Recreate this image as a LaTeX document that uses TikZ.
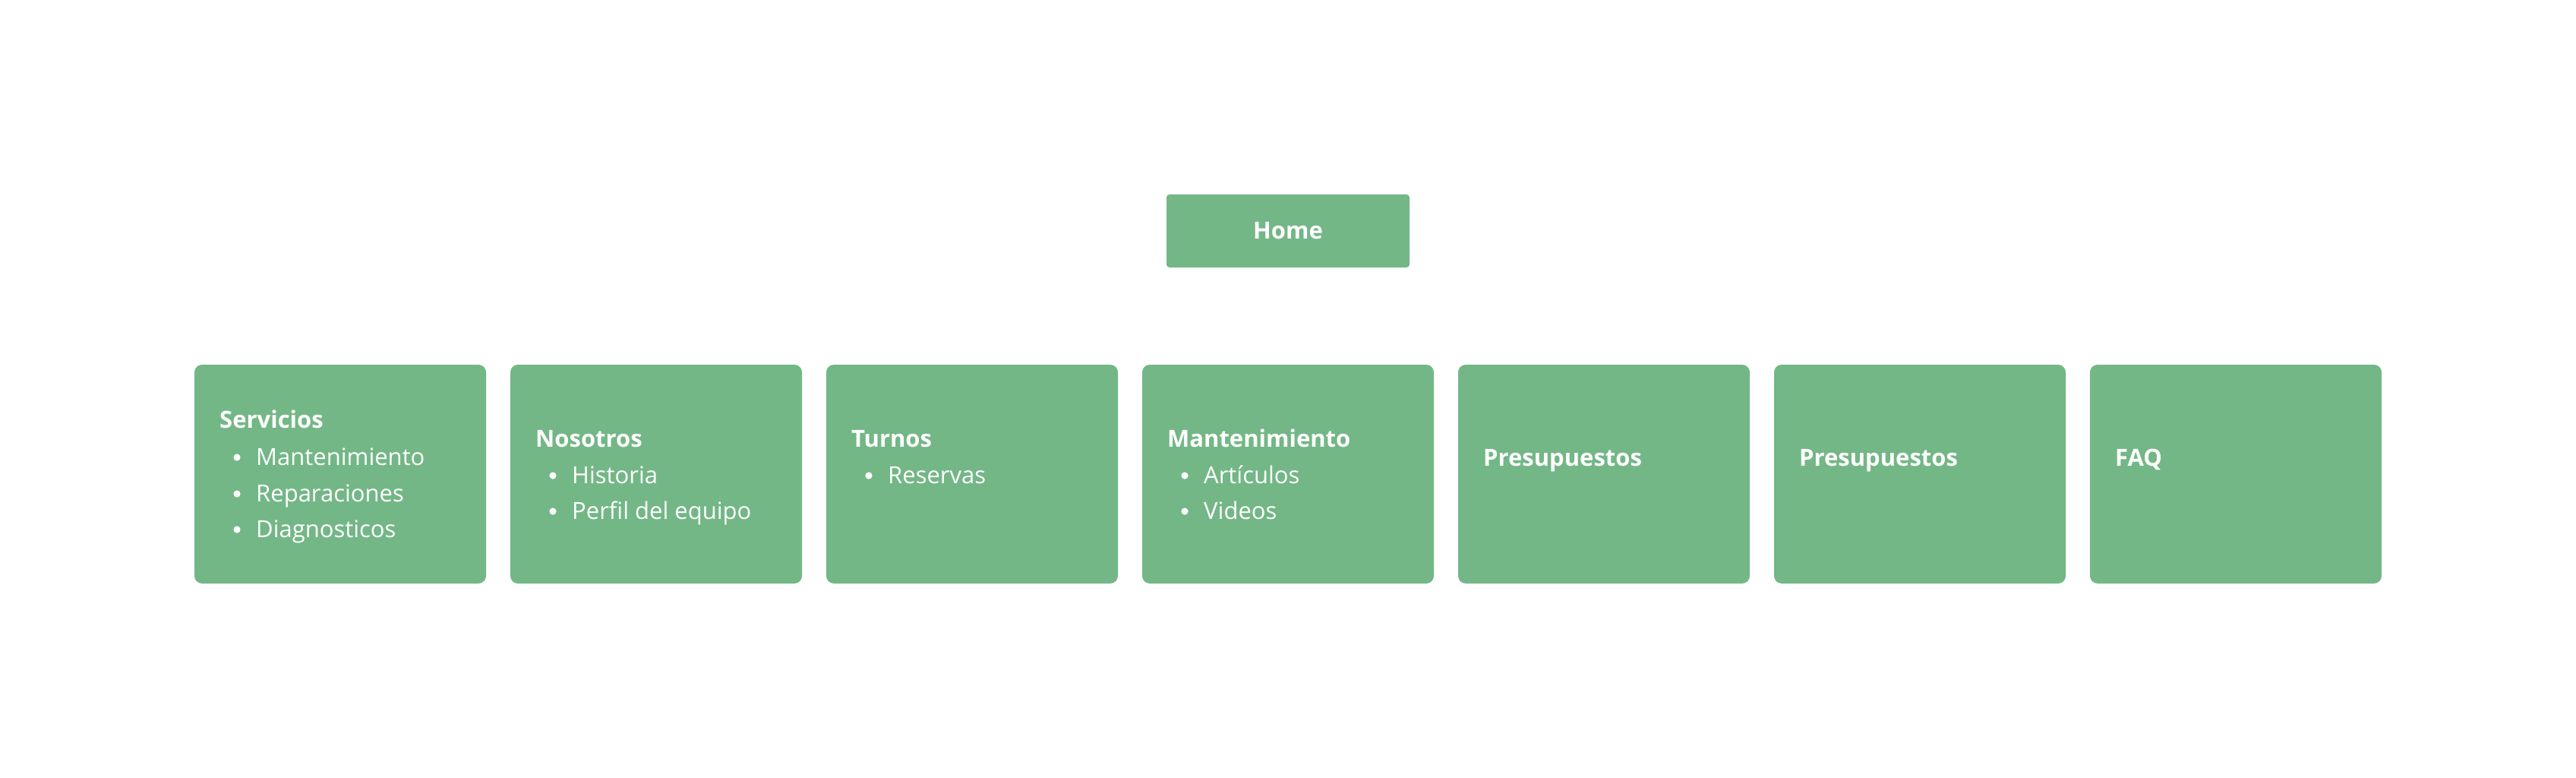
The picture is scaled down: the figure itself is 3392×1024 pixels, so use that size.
\documentclass[tikz,border=0pt]{standalone}
\usepackage{fontspec}
\setmainfont{Open Sans}
\definecolor{boxgreen}{RGB}{115,183,134}
\begin{document}
\begin{tikzpicture}[x=1pt,y=-1pt,
  box/.style={fill=boxgreen, draw=none, rounded corners=10pt, minimum width=384pt, minimum height=288pt, inner sep=0pt},
  homebox/.style={fill=boxgreen, draw=none, rounded corners=4pt, minimum width=320pt, minimum height=96pt, inner sep=0pt},
  ttl/.style={text=white, inner sep=0pt, anchor=base west, font=\fontsize{31}{36}\selectfont\bfseries},
  itm/.style={text=white, inner sep=0pt, anchor=base west, font=\fontsize{31}{36}\selectfont},
  dot/.style={fill=white, draw=none}]
\useasboundingbox (0,0) rectangle (3392,1024);
\fill[white] (0,0) rectangle (3392,1024);

\node[homebox] (home) at (1696,304) {};
\node[text=white, inner sep=0pt, anchor=base, font=\fontsize{31}{36}\selectfont\bfseries] (hometxt) at (1696,315) {Home};

\node[box] (b1) at (448,624) {};
\node[box] (b2) at (864,624) {};
\node[box] (b3) at (1280,624) {};
\node[box] (b4) at (1696,624) {};
\node[box] (b5) at (2112,624) {};
\node[box] (b6) at (2528,624) {};
\node[box] (b7) at (2944,624) {};

% Box 1
\node[ttl] (t1) at (289,563) {Servicios};
\fill[dot] (312,602) circle (4.6);
\node[itm] (i11) at (337,612) {Mantenimiento};
\fill[dot] (312,650) circle (4.6);
\node[itm] (i12) at (337,660) {Reparaciones};
\fill[dot] (312,697) circle (4.6);
\node[itm] (i13) at (337,707) {Diagnosticos};

% Box 2
\node[ttl] (t2) at (705,588) {Nosotros};
\fill[dot] (728,626) circle (4.6);
\node[itm] (i21) at (753,636) {Historia};
\fill[dot] (728,673) circle (4.6);
\node[itm] (i22) at (753,683) {Perfil del equipo};

% Box 3
\node[ttl] (t3) at (1121,588) {Turnos};
\fill[dot] (1144,626) circle (4.6);
\node[itm] (i31) at (1169,636) {Reservas};

% Box 4
\node[ttl] (t4) at (1537,588) {Mantenimiento};
\fill[dot] (1560,626) circle (4.6);
\node[itm] (i41) at (1585,636) {Artículos};
\fill[dot] (1560,673) circle (4.6);
\node[itm] (i42) at (1585,683) {Videos};

% Boxes 5-7
\node[ttl] (t5) at (1953,613) {Presupuestos};
\node[ttl] (t6) at (2369,613) {Presupuestos};
\node[ttl] (t7) at (2785,613) {FAQ};
\end{tikzpicture}
\end{document}
